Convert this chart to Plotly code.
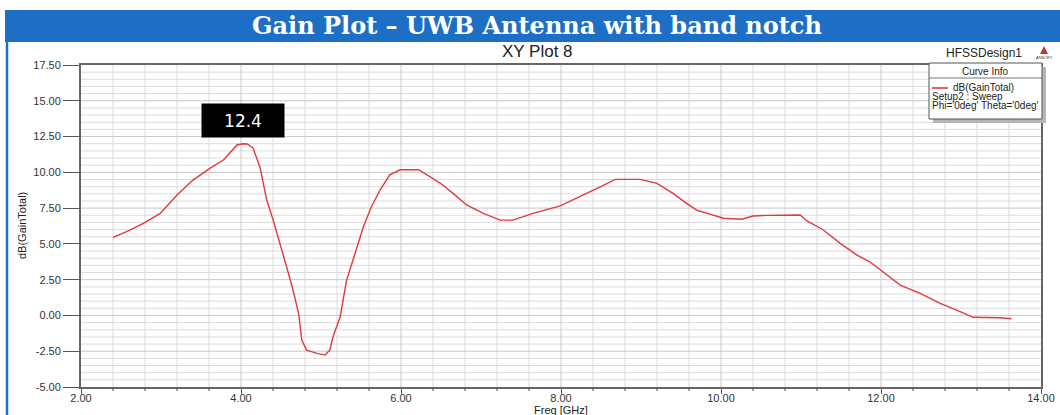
import plotly.graph_objects as go

# ---------------- data ----------------
freq_ghz = [2.40, 2.57, 2.78, 2.99, 3.20, 3.40, 3.61, 3.78, 3.95, 4.02, 4.08, 4.15,
            4.24, 4.32, 4.40, 4.49, 4.57, 4.65, 4.72, 4.76, 4.82, 4.95, 5.05, 5.11,
            5.15, 5.24, 5.32, 5.40, 5.53, 5.63, 5.74, 5.86, 5.99, 6.22, 6.32, 6.49,
            6.65, 6.82, 7.03, 7.24, 7.40, 7.65, 7.99, 8.24, 8.49, 8.68, 8.99, 9.20,
            9.40, 9.57, 9.70, 9.86, 10.03, 10.26, 10.40, 10.57, 10.99, 11.07, 11.28,
            11.49, 11.70, 11.86, 11.99, 12.24, 12.49, 12.74, 12.99, 13.15, 13.49, 13.63]
gain_db = [5.45, 5.85, 6.44, 7.13, 8.41, 9.46, 10.28, 10.86, 11.91, 12.00, 11.98, 11.70,
           10.30, 8.10, 6.70, 5.00, 3.40, 1.78, 0.15, -1.72, -2.42, -2.65, -2.77, -2.42,
           -1.49, -0.09, 2.47, 3.87, 6.20, 7.60, 8.78, 9.83, 10.18, 10.18, 9.83, 9.25,
           8.53, 7.72, 7.13, 6.66, 6.66, 7.13, 7.65, 8.30, 8.99, 9.51, 9.51, 9.23,
           8.53, 7.83, 7.35, 7.08, 6.79, 6.72, 6.95, 6.99, 7.02, 6.62, 5.97,
           5.04, 4.22, 3.75, 3.17, 2.12, 1.54, 0.85, 0.26, -0.13, -0.16, -0.23]

x_ticks = [2, 4, 6, 8, 10, 12, 14]
x_tick_labels = ["2.00", "4.00", "6.00", "8.00", "10.00", "12.00", "14.00"]
y_ticks = [-5, -2.5, 0, 2.5, 5, 7.5, 10, 12.5, 15, 17.5]
y_tick_labels = ["-5.00", "-2.50", "0.00", "2.50", "5.00", "7.50", "10.00", "12.50", "15.00", "17.50"]
x_range = [2, 14]
y_range = [-5, 17.5]
x_minor_step = 0.4
y_minor_step = 0.5

peak_label = "12.4"
banner_title = "Gain Plot – UWB Antenna with band notch"
plot_title = "XY Plot 8"
design_name = "HFSSDesign1"
curve_name = "dB(GainTotal)"
curve_info = ["Setup2 : Sweep", "Phi='0deg' Theta='0deg'"]

# ---------------- geometry helpers (pixel -> paper) ----------------
W, H = 1060, 415
L, R, T, B = 81, 1041, 65, 387


def px(x):
    return (x - L) / (R - L)


def py(y):
    return (B - y) / (B - T)


def vx(v):  # axis value -> paper x
    return (v - x_range[0]) / (x_range[1] - x_range[0])


BLUE = "#1d6fc6"
FONT = "Liberation Sans, Arial, sans-serif"
GRID_MAJ = "#c8c8c8"
GRID_MIN = "#dcdcdc"
TICK = "#555"

n_xm = int(round((x_range[1] - x_range[0]) / x_minor_step))
n_ym = int(round((y_range[1] - y_range[0]) / y_minor_step))
x_grid_vals = [x_range[0] + k * x_minor_step for k in range(1, n_xm)]
y_grid_vals = [y_range[0] + k * y_minor_step for k in range(1, n_ym)]


def is_major(v, ticks):
    return any(abs(v - t) < 1e-6 for t in ticks)


def grid_segments(major):
    gx, gy = [], []
    for v in x_grid_vals:
        if is_major(v, x_ticks) == major:
            gx += [v, v, None]
            gy += [y_range[0], y_range[1], None]
    for v in y_grid_vals:
        if is_major(v, y_ticks) == major:
            gx += [x_range[0], x_range[1], None]
            gy += [v, v, None]
    return gx, gy


fig = go.Figure()
# grid lines drawn as background traces on the axes' own scales
for major, col in ((False, GRID_MIN), (True, GRID_MAJ)):
    gx, gy = grid_segments(major)
    fig.add_trace(go.Scatter(x=gx, y=gy, mode="lines", line=dict(color=col, width=1),
                             hoverinfo="skip", showlegend=False))

# minor y tick marks just outside the left frame
y_minor_ticks = [v for v in y_grid_vals if not is_major(v, y_ticks)]
x_tick_pos = x_range[0] - 4 / 80.0
fig.add_trace(go.Scatter(x=[x_tick_pos] * len(y_minor_ticks), y=y_minor_ticks, mode="markers",
                         marker=dict(symbol="line-ew", size=8, color=TICK,
                                     line=dict(color=TICK, width=1)),
                         cliponaxis=False, hoverinfo="skip", showlegend=False))

fig.add_trace(go.Scatter(x=freq_ghz, y=gain_db, mode="lines", name=curve_name,
                         line=dict(color="#e03a3e", width=1.4), showlegend=False))

shapes = []
for v in x_grid_vals:
    if is_major(v, x_ticks):
        continue
    shapes.append(dict(type="line", xref="paper", yref="paper", x0=vx(v), x1=vx(v), y0=py(B + 4), y1=py(B),
                       line=dict(color=TICK, width=1), layer="above"))

shapes += [
    dict(type="rect", xref="paper", yref="paper", x0=px(5), x1=px(1062), y0=py(42), y1=py(10),
         fillcolor=BLUE, line=dict(width=0), layer="above"),
    dict(type="line", xref="paper", yref="paper", x0=px(7), x1=px(7), y0=py(42), y1=py(416),
         line=dict(color=BLUE, width=2.5), layer="above"),
    dict(type="rect", xref="paper", yref="paper", x0=px(933), x1=px(1046), y0=py(123), y1=py(67),
         fillcolor="#b5b5b5", line=dict(width=0), layer="above"),
    dict(type="rect", xref="paper", yref="paper", x0=px(929), x1=px(1042), y0=py(119), y1=py(63),
         fillcolor="white", line=dict(color="#555", width=1), layer="above"),
    dict(type="line", xref="paper", yref="paper", x0=px(929), x1=px(1042), y0=py(78), y1=py(78),
         line=dict(color="#777", width=1), layer="above"),
    dict(type="line", xref="paper", yref="paper", x0=px(932), x1=px(948), y0=py(88), y1=py(88),
         line=dict(color="#e03a3e", width=1.6), layer="above"),
    dict(type="path", xref="paper", yref="paper",
         path="M {} {} L {} {} L {} {} Z".format(px(1040), py(54), px(1048), py(54), px(1044), py(46)),
         fillcolor="#c0392b", line=dict(width=0), layer="above"),
]

annotations = [
    dict(text="<b>" + banner_title + "</b>", x=px(537), y=py(26), xref="paper", yref="paper",
         showarrow=False, font=dict(family="DejaVu Serif, serif", size=24, color="white"),
         xanchor="center", yanchor="middle"),
    dict(text=plot_title, x=px(537), y=py(52), xref="paper", yref="paper", showarrow=False,
         font=dict(family=FONT, size=17, color="#222"), xanchor="center", yanchor="middle"),
    dict(text=design_name, x=px(984), y=py(53), xref="paper", yref="paper", showarrow=False,
         font=dict(family=FONT, size=12, color="#222"), xanchor="center", yanchor="middle"),
    dict(text="ANSOFT", x=px(1044), y=py(58), xref="paper", yref="paper", showarrow=False,
         font=dict(family=FONT, size=4, color="#333"), xanchor="center", yanchor="middle"),
    dict(text="Curve Info", x=px(985), y=py(71), xref="paper", yref="paper", showarrow=False,
         font=dict(family=FONT, size=10, color="#222"), xanchor="center", yanchor="middle"),
    dict(text=curve_name, x=px(951), y=py(88), xref="paper", yref="paper", showarrow=False,
         font=dict(family=FONT, size=10, color="#222"), xanchor="left", yanchor="middle"),
    dict(text=curve_info[0], x=px(930), y=py(97), xref="paper", yref="paper", showarrow=False,
         font=dict(family=FONT, size=10, color="#222"), xanchor="left", yanchor="middle"),
    dict(text=curve_info[1], x=px(930), y=py(106), xref="paper", yref="paper", showarrow=False,
         font=dict(family=FONT, size=10, color="#222"), xanchor="left", yanchor="middle"),
    dict(text=peak_label, x=px(243), y=py(120), xref="paper", yref="paper", showarrow=False,
         font=dict(family="DejaVu Sans, sans-serif", size=17, color="white"),
         bgcolor="black", width=80, height=31, xanchor="center", yanchor="middle"),
    dict(text="Freq [GHz]", x=0.5, y=py(410), xref="paper", yref="paper", showarrow=False,
         font=dict(family=FONT, size=11, color="#222"), xanchor="center", yanchor="middle"),
    dict(text=curve_name, x=px(22), y=py(226), xref="paper", yref="paper", showarrow=False,
         textangle=-90, font=dict(family=FONT, size=11, color="#222"),
         xanchor="center", yanchor="middle"),
]

axis_common = dict(showline=True, mirror=True, linecolor="#666", linewidth=2,
                   zeroline=False, showgrid=False,
                   tickfont=dict(family=FONT, size=11, color="#333"), tickcolor=TICK,
                   ticks="outside", automargin=False, tickmode="array")

fig.update_xaxes(range=x_range, tickvals=x_ticks, ticktext=x_tick_labels,
                 ticklen=5, ticklabelstandoff=-5, **axis_common)
fig.update_yaxes(range=y_range, tickvals=y_ticks, ticktext=y_tick_labels,
                 ticklen=16, **axis_common)

fig.update_layout(template="none", width=W, height=H, autosize=False,
                  margin=dict(l=L, r=W - R, t=T, b=H - B, pad=0),
                  paper_bgcolor="white", plot_bgcolor="white",
                  shapes=shapes, annotations=annotations, showlegend=False)

fig.write_html("out.html")
